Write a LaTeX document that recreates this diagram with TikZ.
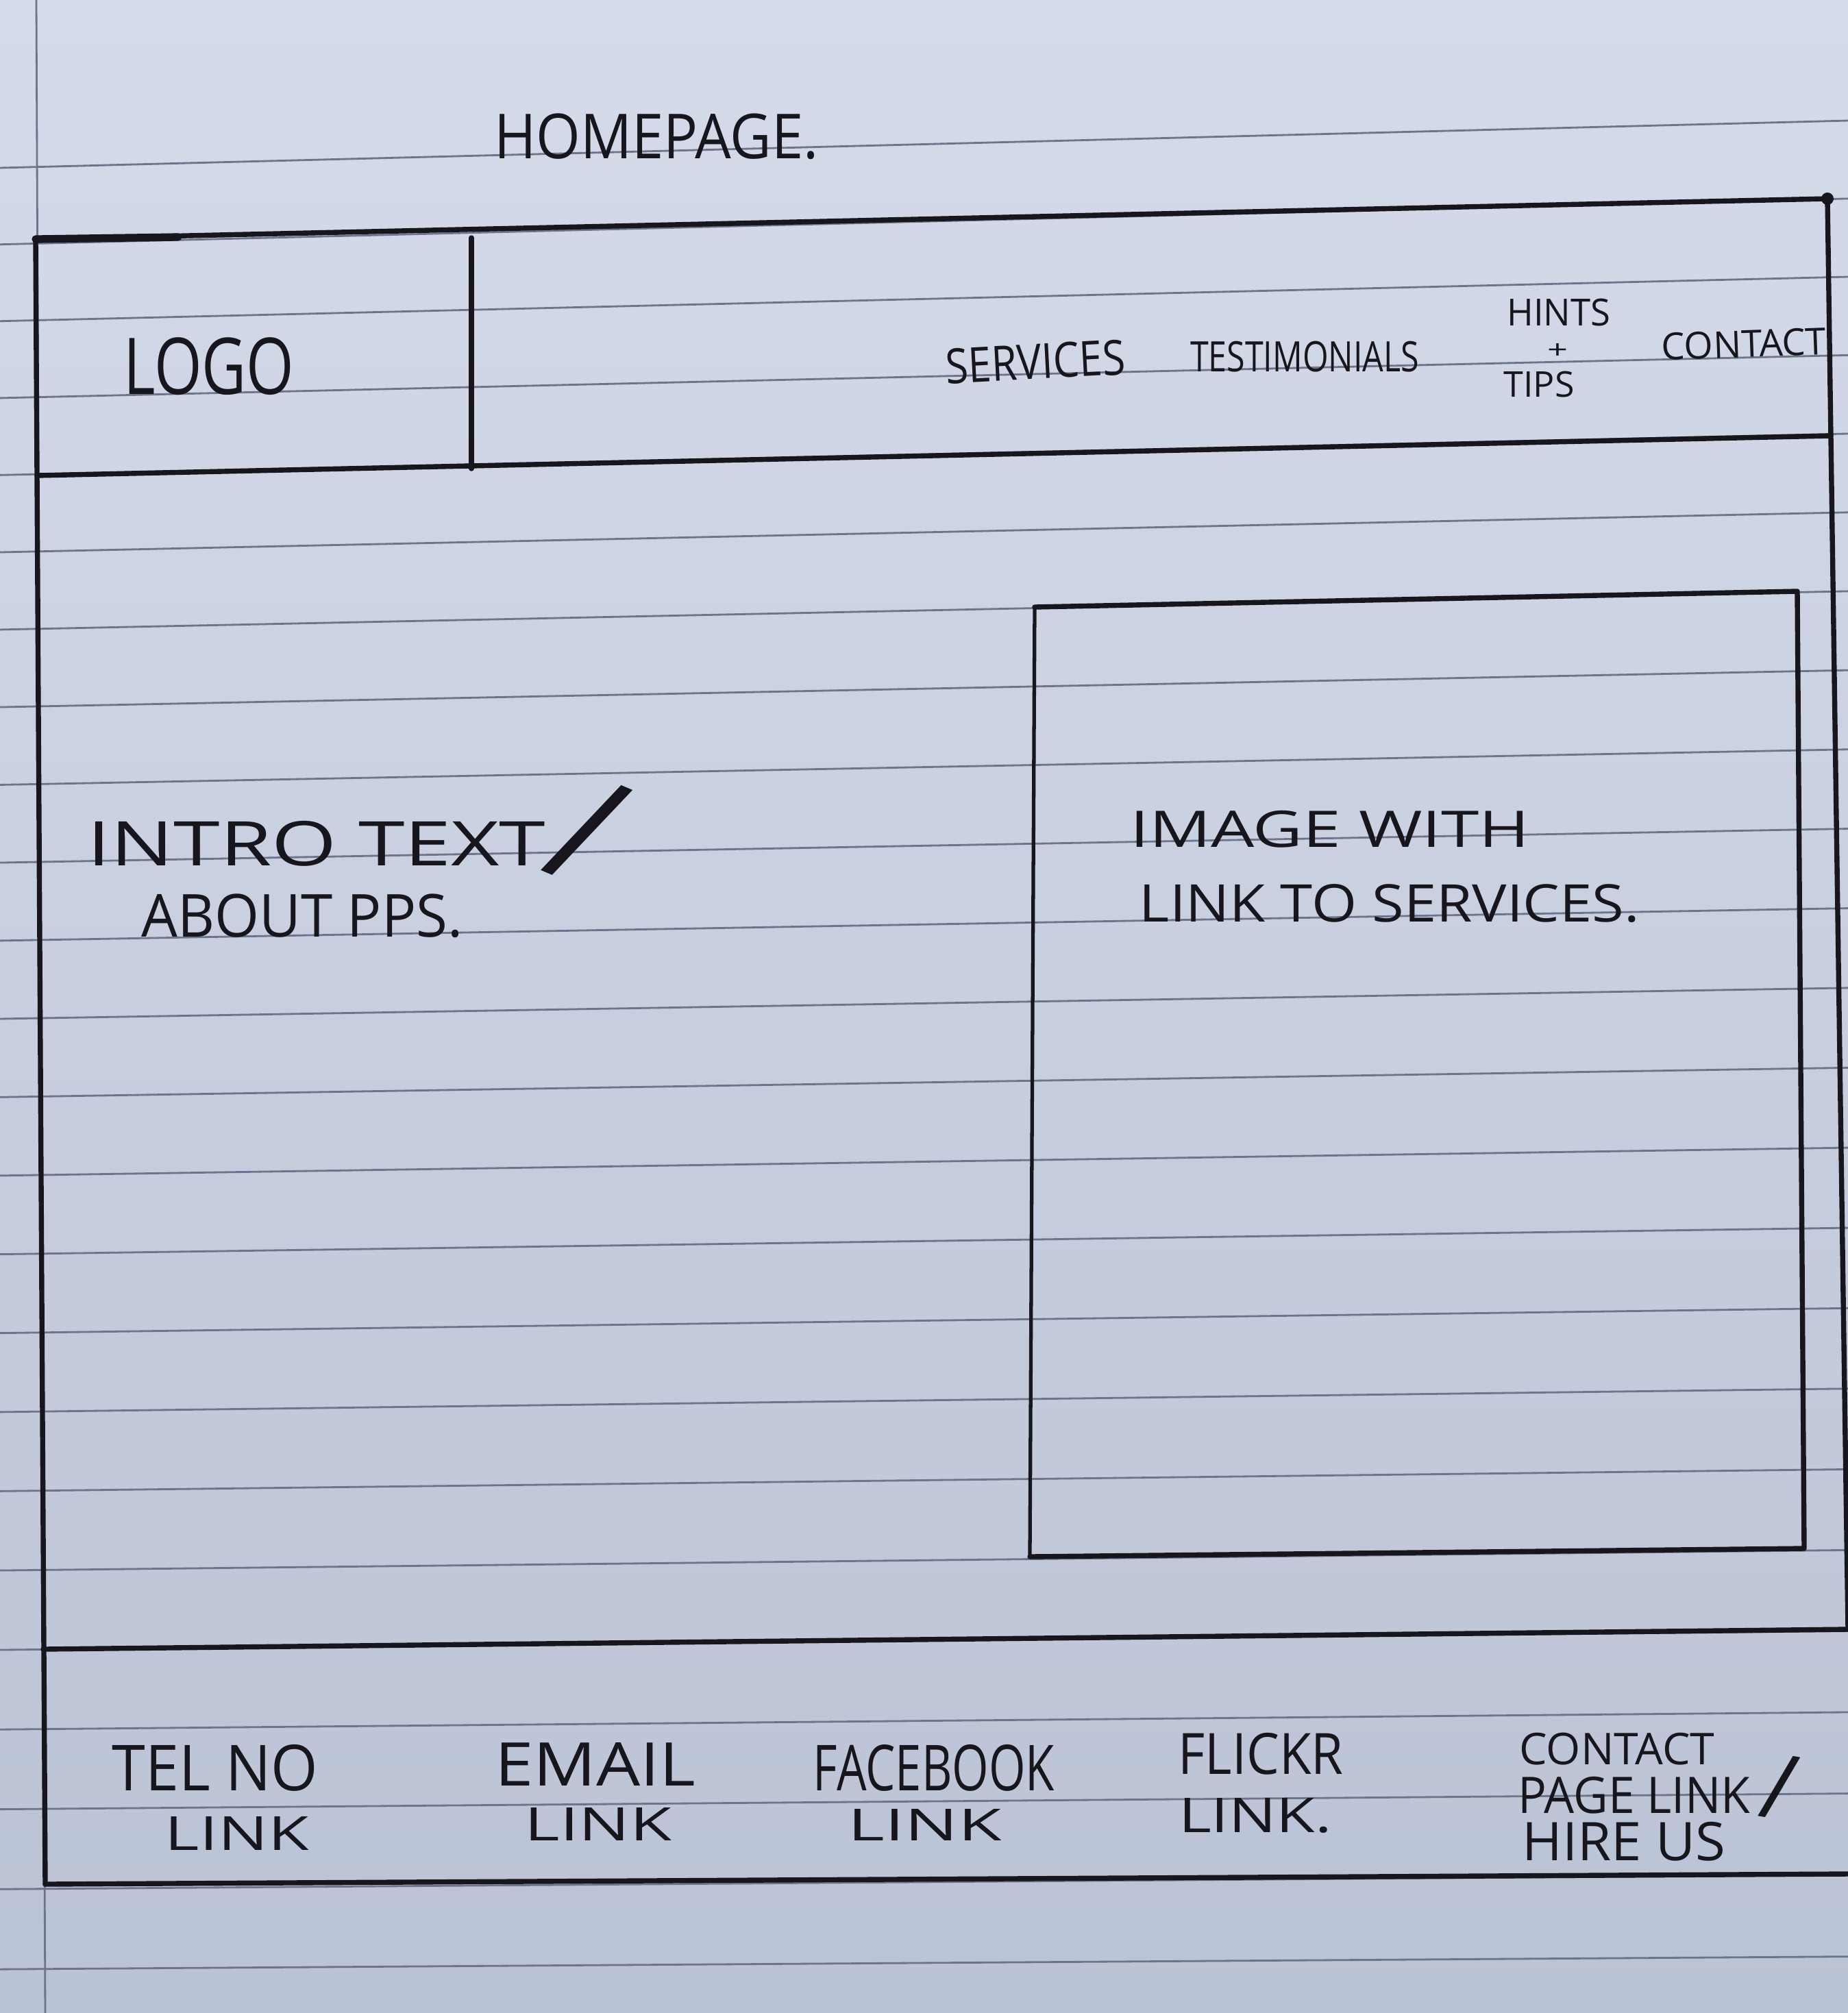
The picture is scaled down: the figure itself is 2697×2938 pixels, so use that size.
\documentclass[tikz,border=0pt]{standalone}
\usepackage{fontspec}
\setmainfont{Open Sans}
\usepackage{graphicx}

\definecolor{paperTop}{RGB}{213,219,233}
\definecolor{paperBot}{RGB}{186,194,213}
\definecolor{ruling}{RGB}{108,117,140}
\definecolor{ink}{RGB}{22,22,28}

% one drawing unit = 0.01cm
\newlength\pxu
\setlength\pxu{0.01cm}
% hand-lettered label squeezed into a w x h box (in drawing units)
\newcommand{\hand}[3]{\resizebox*{#1\pxu}{#2\pxu}{#3}}
% a tall stroke that keeps its own proportions
\newcommand{\tallglyph}[2]{\resizebox*{!}{#1\pxu}{#2}}

\tikzset{
  ruleline/.style={draw=ruling, line width=0.8pt},
  pen/.style={draw=ink, line width=2.1pt, line cap=round, line join=round},
  thinpen/.style={draw=ink, line width=1.5pt, line cap=round, line join=round},
  hw/.style={inner sep=0pt, outer sep=0pt, text=ink},
}

\begin{document}
\begin{tikzpicture}[x=0.01cm, y=-0.01cm]
  \useasboundingbox (0,0) rectangle (2697,2938);

  % sheet of ruled paper
  \fill[top color=paperTop, bottom color=paperBot] (0,0) rectangle (2697,2938);
  \foreach \k in {0,...,23}{
    \pgfmathsetmacro\yl{245+111.62*\k+0.117*\k*\k}
    \pgfmathsetmacro\yr{\yl-69+0.0192*(\yl-245)}
    \draw[ruleline] (0,\yl) -- (2697,\yr);
  }
  \draw[ruleline] (53,0) -- (66,2938);

  % page frame
  \coordinate (tl) at (52,349);
  \coordinate (tr) at (2667,290);
  \coordinate (hl) at (54,694);
  \coordinate (hr) at (2672,636);
  \coordinate (lgt) at (688,347);
  \coordinate (lgb) at (688,684);
  \coordinate (rb) at (2697,2378);
  \coordinate (ftl) at (63,2407);
  \coordinate (ftr) at (2697,2378);
  \coordinate (fbl) at (66,2750);
  \coordinate (fbr) at (2697,2735);

  \draw[pen] (fbl) -- (tl) -- (tr) -- (rb);
  \draw[pen] (hl) -- (hr);
  \draw[pen] (lgt) -- (lgb);
  \draw[pen] (ftl) -- (ftr);
  \draw[pen] (fbl) -- (fbr);
  \fill[ink] (tr) circle (9);
  \draw[pen, line width=3.2pt] (52,349) -- (260,346);

  % image panel
  \coordinate (i1) at (1510,886);
  \coordinate (i2) at (2623,863);
  \coordinate (i3) at (2633,2260);
  \coordinate (i4) at (1503,2272);
  \draw[thinpen] (i4) -- (i1);
  \draw[pen] (i1) -- (i2) -- (i3) -- (i4);

  % labels
  \node[hw] (homepage) at (958,199) {\hand{473}{67}{HOMEPAGE.}};
  \node[hw] (logo) at (305,535) {\hand{249}{84}{LOGO}};

  \node[hw, rotate=3] (services) at (1511,528) {\hand{262}{52}{SERVICES}};
  \node[hw] (testimonials) at (1904,521) {\hand{334}{45}{TESTIMONIALS}};
  \node[hw] (hints) at (2275,456) {\hand{151}{40}{HINTS}};
  \node[hw] (plus) at (2273,512) {\hand{30}{22}{+}};
  \node[hw] (tips) at (2246,561) {\hand{103}{38}{TIPS}};
  \node[hw, rotate=2] (contact) at (2545,502) {\hand{240}{40}{CONTACT}};

  \node[hw] (intro) at (462,1231) {\hand{669}{66}{INTRO TEXT}};
  \node[hw, rotate=-23] (introslash) at (857,1212) {\tallglyph{160}{/}};
  \node[hw] (about) at (441,1337) {\hand{469}{64}{ABOUT PPS.}};

  \node[hw] (imagewith) at (1941,1210) {\hand{583}{54}{IMAGE WITH}};
  \node[hw] (linkto) at (2028,1319) {\hand{730}{56}{LINK TO SERVICES.}};

  \node[hw] (telno) at (314,2580) {\hand{301}{68}{TEL NO}};
  \node[hw] (tellink) at (346,2676) {\hand{210}{49}{LINK}};
  \node[hw] (email) at (869,2575) {\hand{293}{63}{EMAIL}};
  \node[hw] (emaillink) at (873,2662) {\hand{215}{48}{LINK}};
  \node[hw] (facebook) at (1363,2580) {\hand{352}{68}{FACEBOOK}};
  \node[hw] (fblink) at (1350,2663) {\hand{224}{46}{LINK}};
  \node[hw] (flickr) at (1840,2560) {\hand{241}{61}{FLICKR}};
  \node[hw] (flickrlink) at (1832,2650) {\hand{224}{51}{LINK.}};
  \node[hw] (fcontact) at (2360,2553) {\hand{285}{47}{CONTACT}};
  \node[hw] (pagelink) at (2385,2620) {\hand{339}{54}{PAGE LINK}};
  \node[hw, rotate=-10] (pageslash) at (2597,2608) {\tallglyph{95}{/}};
  \node[hw] (hireus) at (2370,2688) {\hand{297}{57}{HIRE US}};
\end{tikzpicture}
\end{document}
